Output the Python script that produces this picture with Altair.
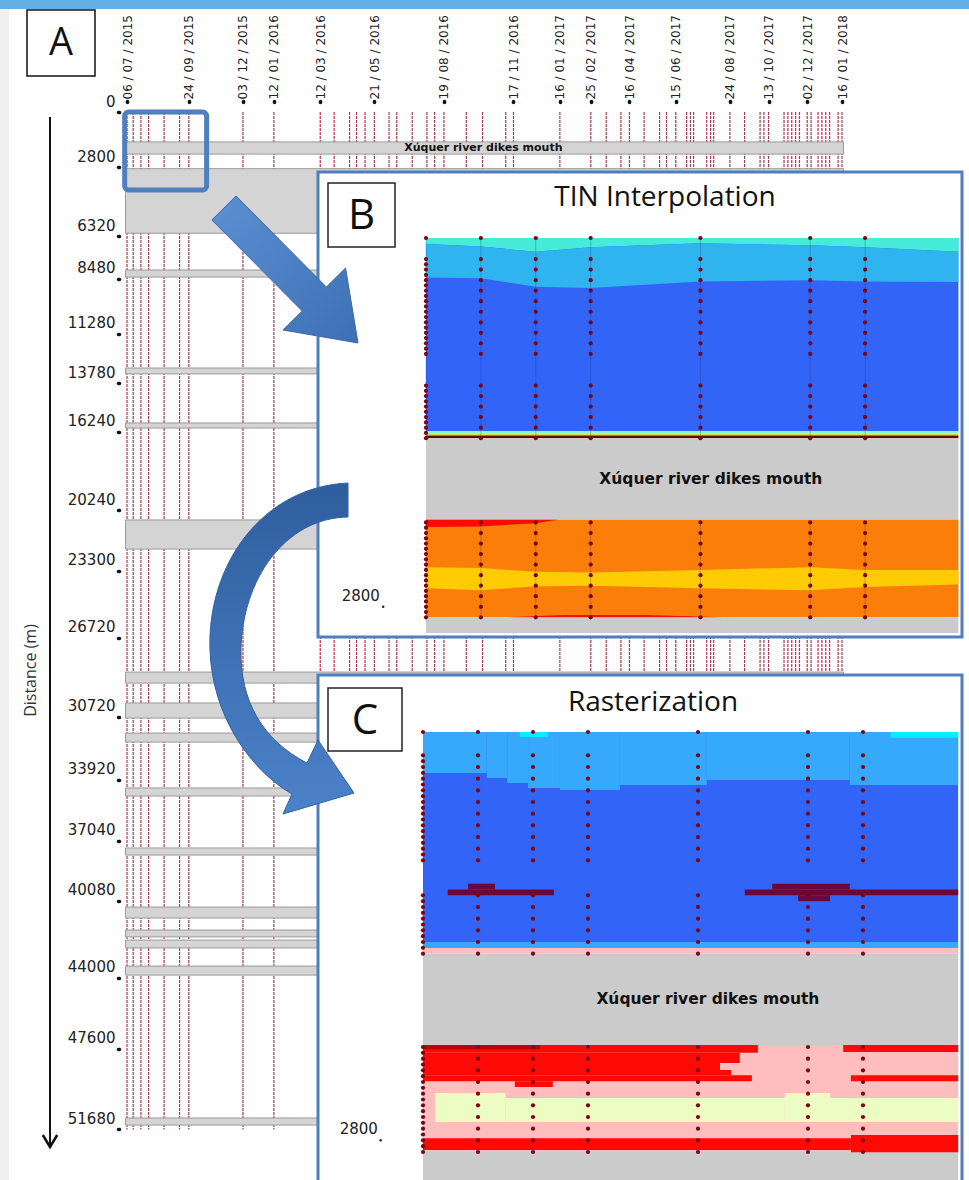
import math
import altair as alt
import pandas as pd

# ---------------- values ----------------
# Panel A : survey dates (top axis) and distances (left axis)
DATE_TICKS = ["2015-07-06", "2015-09-24", "2015-12-03", "2016-01-12", "2016-03-12",
              "2016-05-21", "2016-08-19", "2016-11-17", "2017-01-16", "2017-02-25",
              "2017-04-16", "2017-06-15", "2017-08-24", "2017-10-13", "2017-12-02",
              "2018-01-16"]
SURVEY_DATES = [
    "2015-07-06", "2015-07-14", "2015-07-24", "2015-08-03", "2015-08-23", "2015-09-12",
    "2015-09-24", "2015-12-03", "2016-01-12", "2016-03-12", "2016-03-30", "2016-04-19",
    "2016-04-28", "2016-05-09", "2016-05-21", "2016-06-09", "2016-06-19", "2016-07-09",
    "2016-07-28", "2016-08-07", "2016-08-19", "2016-09-17", "2016-10-08", "2016-11-07",
    "2016-11-17", "2017-01-16", "2017-02-25", "2017-03-17", "2017-04-05", "2017-04-16",
    "2017-05-05", "2017-05-25", "2017-06-03", "2017-06-15", "2017-06-29", "2017-07-04",
    "2017-07-08", "2017-07-25", "2017-07-30", "2017-08-03", "2017-08-24", "2017-09-12",
    "2017-10-02", "2017-10-07", "2017-10-13", "2017-11-02", "2017-11-07", "2017-11-12",
    "2017-11-17", "2017-11-22", "2017-12-02", "2017-12-07", "2017-12-16", "2017-12-21",
    "2017-12-26", "2017-12-31", "2018-01-11", "2018-01-16"]
DIST_TICKS = [0, 2800, 6320, 8480, 11280, 13780, 16240, 20240, 23300, 26720, 30720,
              33920, 37040, 40080, 44000, 47600, 51680]
GAP_START = [1520, 2880, 8030, 13010, 15800, 20730, 28460, 30030, 31560, 34350, 37400,
             40400, 41570, 42080, 43400, 51120]
GAP_END = [2140, 6160, 8390, 13310, 16060, 22210, 29020, 30800, 32020, 34760, 37760,
           40960, 41920, 42480, 43860, 51480]
A_DATE_START, A_DATE_END = "2015-07-04", "2018-01-18"
A_LINE_TOP, A_LINE_BOTTOM = 0, 51700
ZOOM_DATES = ["2015-07-03", "2015-10-17"]
ZOOM_DIST = [0, 3960]
MOUTH_DIST = 1830
A_MOUTH_DATE = "2016-10-09"
MOUTH_TEXT = "Xúquer river dikes mouth"

# Panels B and C : survey columns (10-day steps) and profile rows (m)
COLS = [0, 1, 2, 3, 5, 7, 8]
ROWS = [0, 160, 240, 320, 400, 480, 560, 640, 720, 800, 880, 1120, 1200, 1280, 1360,
        1440, 1520, 2160, 2240, 2320, 2400, 2480, 2560, 2640, 2720, 2800, 2880]
COL0_ROWS = [0, 160, 200, 240, 280, 320, 360, 400, 440, 480, 520, 560, 600, 640, 680,
             720, 760, 800, 840, 880, 1120, 1160, 1200, 1240, 1280, 1320, 1360, 1400,
             1440, 1480, 1520, 2160, 2200, 2240, 2280, 2320, 2360, 2400, 2440, 2480,
             2520, 2560, 2600, 2640, 2680, 2720, 2760, 2800, 2840, 2880]
SEG_TOP = [0, 2160]
SEG_BOT = [1520, 2880]

# Panel B (TIN interpolation)
B_RIGHT = 9.7
B_FLAT_CLASS = ["deep", "lineCyan", "lineYel", "lineDark", "gray", "orange", "gray"]
B_FLAT_TOP = [0, 1465, 1485, 1500, 1520, 2140, 2880]
B_FLAT_BOT = [1465, 1485, 1500, 1520, 2140, 2880, 3000]
B_X = [0, 1, 2, 3, 5, 7, 8, 9.7]
B_CYAN_LOW = [45, 65, 105, 70, 40, 55, 70, 105]
B_LIGHT_LOW = [300, 305, 370, 380, 330, 320, 330, 335]
B_YEL_TOP = [2500, 2505, 2535, 2540, 2520, 2500, 2520, 2520]
B_YEL_LOW = [2660, 2675, 2645, 2640, 2660, 2675, 2650, 2630]
B_REDTOP_X = [0, 1, 2, 2.4]
B_REDTOP_LOW = [2195, 2190, 2165, 2140]
B_REDBOT_X = [1.5, 2.5, 4, 5.4]
B_REDBOT_TOP = [2880, 2862, 2862, 2880]

# Panel C (rasterization) cells
C_X0 = [0, 0, 0, 0, 0, 0,
        0, 1.16, 1.53, 1.91, 2.49, 3.58, 5.16, 7.76,
        1.76, 8.5,
        0.45, 0.82, 5.85, 6.35, 6.82,
        0, 0, 0, 0, 0, 1.67, 7.64, 7.78, 0, 7.78,
        0,
        0.22, 1.5, 6.58, 7.4]
C_X1 = [9.73, 9.73, 9.73, 9.73, 9.73, 9.73,
        1.16, 1.53, 1.91, 2.49, 3.58, 5.16, 7.76, 9.73,
        2.27, 9.73,
        2.38, 1.31, 9.73, 7.76, 7.40,
        6.09, 5.76, 5.40, 5.60, 5.98, 2.36, 9.73, 9.73, 7.78, 9.73,
        2.13,
        1.5, 6.58, 7.4, 9.73]
C_Y0 = [0, 1440, 1481, 1520, 2147, 2880,
        0, 0, 0, 0, 0, 0, 0, 0,
        0, 0,
        1080, 1040, 1080, 1040, 1120,
        2147, 2200, 2270, 2318, 2353, 2394, 2147, 2353, 2785, 2764,
        2147,
        2476, 2510, 2476, 2510]
C_Y1 = [1440, 1481, 1520, 2147, 2880, 3080,
        281, 315, 350, 384, 398, 363, 329, 363,
        34, 40,
        1120, 1080, 1120, 1080, 1160,
        2200, 2270, 2318, 2353, 2394, 2435, 2195, 2394, 2867, 2881,
        2175,
        2675, 2675, 2675, 2675]
C_CLASS = ["deep", "lightC", "pink", "gray", "pink", "gray"] + ["lightC"] * 8 + \
          ["cyanC"] * 2 + ["maroon"] * 5 + ["red"] * 10 + ["darkred"] + ["pale"] * 4

# ---------------- styles ----------------
CLASS_COLORS = {
    "cyanB": "#46ecd9", "lightB": "#2fb4ef", "deep": "#3264f8", "lineCyan": "#8af5d2",
    "lineYel": "#d6e03a", "lineDark": "#5c0c05", "gray": "#cbcbcb", "orange": "#fc7e0a",
    "yellow": "#fecb05", "red": "#fe0a06", "darkred": "#c20000", "lightC": "#36a9fc",
    "cyanC": "#05f0ff", "pink": "#ffbebe", "pale": "#ecfdc4", "maroon": "#6a083c",
}
CLS = alt.Scale(domain=list(CLASS_COLORS), range=list(CLASS_COLORS.values()))
SANS = "DejaVu Sans"
TITLE_FONT = "Open Sans"
LINE_RED = "#a8384c"
DOT_RED = "#7a0614"
PANEL_BLUE = "#4f7fbd"


def ms(s):
    return int(pd.Timestamp(s, tz="UTC").value // 1_000_000)


XA = alt.Scale(type="utc", domain=[ms(DATE_TICKS[0]), ms(DATE_TICKS[-1])], range=[127, 842])
YA = alt.Scale(domain=[0, 51680], range=[112, 1129], nice=False, zero=False)
XB = alt.Scale(domain=[0, 9], range=[426, 920], nice=False, zero=False)
YB = alt.Scale(domain=[0, 2880], range=[238, 617.3], nice=False, zero=False)
XC = alt.Scale(domain=[0, 9], range=[423, 918], nice=False, zero=False)
YC = alt.Scale(domain=[0, 2880], range=[732, 1152], nice=False, zero=False)

ONE = pd.DataFrame({"k": [0]})


def deco_rect(x, x2, y, y2, **kw):
    return alt.Chart(ONE).mark_rect(**kw).encode(
        x=alt.value(x), x2=alt.value(x2), y=alt.value(y), y2=alt.value(y2))


def deco_text(x, y, text, **kw):
    return alt.Chart(ONE).mark_text(text=text, **kw).encode(x=alt.value(x), y=alt.value(y))


def symbol_path(cmds, cx, cy, half):
    out = []
    for c, pts in cmds:
        out.append(c + " ".join(f"{(px - cx) / half:.4f},{(py - cy) / half:.4f}" for px, py in pts))
    return " ".join(out) + " Z"


layers = []

# background decorations
layers.append(deco_rect(0, 969, 0, 9, fill="#62b0e6"))
layers.append(deco_rect(0, 9, 9, 1180, fill="#f0f0f0"))

# ---------------- panel A ----------------
lines_df = pd.DataFrame({"t": [ms(d) for d in SURVEY_DATES], "top": A_LINE_TOP,
                         "bot": A_LINE_BOTTOM})
layers.append(alt.Chart(lines_df).mark_rule(color=LINE_RED, strokeWidth=1.2,
                                            strokeDash=[3, 1]).encode(
    x=alt.X("t:T", scale=XA, axis=None),
    y=alt.Y("top:Q", scale=YA, axis=None), y2="bot:Q"))

top_axis = alt.Axis(orient="top", values=[ms(d) for d in DATE_TICKS],
                    labelExpr="utcFormat(datum.value, '%d / %m / %Y')",
                    labelAngle=270, labelAlign="left", labelBaseline="middle",
                    labelFont=SANS, labelFontSize=12, labelColor="#222", labelPadding=2,
                    tickSize=1, tickWidth=3.5, tickColor="#111", tickCap="round", domain=False,
                    grid=False, title=None, offset=-102, labelFlush=False, labelOverlap=False)
left_axis = alt.Axis(orient="left", values=DIST_TICKS, format="d", labelFont=SANS,
                     labelFontSize=15, labelColor="#222", labelBaseline="bottom", labelOffset=-3,
                     labelPadding=3, tickSize=1, tickWidth=3.5, tickColor="#111", tickCap="round",
                     domain=False, grid=False, offset=-119, labelFlush=False, labelOverlap=False,
                     title="Distance (m)", titleX=-89, titleY=670, titleAngle=270,
                     titleFont=TITLE_FONT, titleFontSize=16, titleFontWeight="normal",
                     titleColor="#333", titleAlign="center", titleBaseline="middle")
gaps_df = pd.DataFrame({"d0": GAP_START, "d1": GAP_END, "x0": ms(A_DATE_START),
                        "x1": ms(A_DATE_END)})
layers.append(alt.Chart(gaps_df).mark_rect(fill="#d4d4d4", stroke="#9a9a9a", strokeWidth=1).encode(
    x=alt.X("x0:T", scale=XA, axis=top_axis), x2="x1:T",
    y=alt.Y("d0:Q", scale=YA, axis=left_axis), y2="d1:Q"))

layers.append(alt.Chart(pd.DataFrame({"t": [ms(A_MOUTH_DATE)], "d": [MOUTH_DIST]})).mark_text(
    text=MOUTH_TEXT, font=SANS, fontSize=11, fontWeight="bold", color="#111").encode(
    x=alt.X("t:T", scale=XA, axis=None), y=alt.Y("d:Q", scale=YA, axis=None)))

zoom_df = pd.DataFrame({"x0": [ms(ZOOM_DATES[0])], "x1": [ms(ZOOM_DATES[1])],
                        "d0": [ZOOM_DIST[0]], "d1": [ZOOM_DIST[1]]})
layers.append(alt.Chart(zoom_df).mark_rect(fill="white", fillOpacity=0, stroke=PANEL_BLUE,
                                           strokeWidth=5, cornerRadius=4).encode(
    x=alt.X("x0:T", scale=XA, axis=None), x2="x1:T",
    y=alt.Y("d0:Q", scale=YA, axis=None), y2="d1:Q"))

layers.append(deco_rect(27, 95, 10, 76, fill="white", stroke="#111", strokeWidth=1.5))
layers.append(deco_text(61, 44, "A", font=TITLE_FONT, fontSize=38, color="#111",
                        baseline="middle", align="center"))

# vertical distance arrow
layers.append(alt.Chart(ONE).mark_rule(color="#111", strokeWidth=2).encode(
    x=alt.value(50), y=alt.value(117), y2=alt.value(1146)))
layers.append(alt.Chart(ONE).mark_point(shape="M-0.6,-1 L0,0 L0.6,-1", size=24 * 24,
                                        filled=False, stroke="#111", strokeWidth=2.5,
                                        opacity=1).encode(x=alt.value(50), y=alt.value(1147)))


# ---------------- panels B and C ----------------
def dots_df():
    rows = []
    for c in COLS:
        for r in (COL0_ROWS if c == 0 else ROWS):
            rows.append({"c": c, "r": r})
    return pd.DataFrame(rows)


def panel(y0, y1, letter, lbox, title, tpos):
    out = []
    out.append(deco_rect(318, 962, y0, y1, fill="white", stroke=PANEL_BLUE, strokeWidth=3))
    out.append(deco_rect(*lbox, fill="white", stroke="#222", strokeWidth=1.5))
    out.append(deco_text((lbox[0] + lbox[1]) / 2, (lbox[2] + lbox[3]) / 2 + 1, letter,
                         font=TITLE_FONT, fontSize=42, color="#111", baseline="middle",
                         align="center"))
    out.append(deco_text(tpos[0], tpos[1], title, font=TITLE_FONT, fontSize=28, color="#111",
                         baseline="middle", align="center"))
    return out


# Panel B
layers += panel(172, 637, "B", (328, 395, 183, 247), "TIN Interpolation", (665, 198))
bflat = pd.DataFrame({"cls": B_FLAT_CLASS, "y0": B_FLAT_TOP, "y1": B_FLAT_BOT, "x0": 0,
                      "x1": B_RIGHT})
layers.append(alt.Chart(bflat).mark_rect().encode(
    x=alt.X("x0:Q", scale=XB, axis=None), x2="x1:Q",
    y=alt.Y("y0:Q", scale=YB, axis=None), y2="y1:Q",
    color=alt.Color("cls:N", scale=CLS, legend=None)))

area_rows = []
for i, xv in enumerate(B_X):
    area_rows.append({"x": xv, "lo": 0, "hi": B_CYAN_LOW[i], "cls": "cyanB", "g": "g1"})
    area_rows.append({"x": xv, "lo": B_CYAN_LOW[i], "hi": B_LIGHT_LOW[i], "cls": "lightB",
                      "g": "g2"})
    area_rows.append({"x": xv, "lo": B_YEL_TOP[i], "hi": B_YEL_LOW[i], "cls": "yellow",
                      "g": "g3"})
for xv, lo in zip(B_REDTOP_X, B_REDTOP_LOW):
    area_rows.append({"x": xv, "lo": 2140, "hi": lo, "cls": "red", "g": "g4"})
for xv, tp in zip(B_REDBOT_X, B_REDBOT_TOP):
    area_rows.append({"x": xv, "lo": tp, "hi": 2880, "cls": "red", "g": "g5"})
layers.append(alt.Chart(pd.DataFrame(area_rows)).mark_area(orient="vertical",
                                                           interpolate="linear").encode(
    x=alt.X("x:Q", scale=XB, axis=None),
    y=alt.Y("lo:Q", scale=YB, axis=None, stack=None), y2="hi:Q",
    color=alt.Color("cls:N", scale=CLS, legend=None), detail="g:N"))

seg_df = pd.DataFrame([{"c": c, "a": a, "b": b} for c in COLS for a, b in zip(SEG_TOP, SEG_BOT)])
layers.append(alt.Chart(seg_df).mark_rule(color="#1a2f80", opacity=0.35, strokeWidth=0.8).encode(
    x=alt.X("c:Q", scale=XB, axis=None), y=alt.Y("a:Q", scale=YB, axis=None), y2="b:Q"))
layers.append(alt.Chart(dots_df()).mark_circle(size=18, color=DOT_RED, opacity=1).encode(
    x=alt.X("c:Q", scale=XB, axis=None), y=alt.Y("r:Q", scale=YB, axis=None)))
lab_df = pd.DataFrame({"x": [-0.84], "xd": [-0.78], "y": [2800], "ym": [MOUTH_DIST],
                       "xm": [5.19]})
layers.append(alt.Chart(lab_df).mark_text(text="2800", font=SANS, fontSize=15, color="#222",
                                          align="right", baseline="bottom", dy=-3).encode(
    x=alt.X("x:Q", scale=XB, axis=None), y=alt.Y("y:Q", scale=YB, axis=None)))
layers.append(alt.Chart(lab_df).mark_circle(size=6, color="#222", opacity=1).encode(
    x=alt.X("xd:Q", scale=XB, axis=None), y=alt.Y("y:Q", scale=YB, axis=None)))
layers.append(alt.Chart(lab_df).mark_text(text=MOUTH_TEXT, font=SANS, fontSize=15.5,
                                          fontWeight="bold", color="#111").encode(
    x=alt.X("xm:Q", scale=XB, axis=None), y=alt.Y("ym:Q", scale=YB, axis=None)))

# Panel C
layers += panel(675, 1192, "C", (328, 402, 688, 751), "Rasterization", (653, 703))
cdf = pd.DataFrame({"x0": C_X0, "x1": C_X1, "y0": C_Y0, "y1": C_Y1, "cls": C_CLASS})
layers.append(alt.Chart(cdf).mark_rect().encode(
    x=alt.X("x0:Q", scale=XC, axis=None), x2="x1:Q",
    y=alt.Y("y0:Q", scale=YC, axis=None), y2="y1:Q",
    color=alt.Color("cls:N", scale=CLS, legend=None)))
layers.append(alt.Chart(dots_df()).mark_circle(size=18, color=DOT_RED, opacity=1).encode(
    x=alt.X("c:Q", scale=XC, axis=None), y=alt.Y("r:Q", scale=YC, axis=None)))
lab_c = pd.DataFrame({"x": [-0.82], "xd": [-0.77], "y": [2800], "ym": [MOUTH_DIST],
                      "xm": [5.18]})
layers.append(alt.Chart(lab_c).mark_text(text="2800", font=SANS, fontSize=15, color="#222",
                                         align="right", baseline="bottom", dy=-3).encode(
    x=alt.X("x:Q", scale=XC, axis=None), y=alt.Y("y:Q", scale=YC, axis=None)))
layers.append(alt.Chart(lab_c).mark_circle(size=6, color="#222", opacity=1).encode(
    x=alt.X("xd:Q", scale=XC, axis=None), y=alt.Y("y:Q", scale=YC, axis=None)))
layers.append(alt.Chart(lab_c).mark_text(text=MOUTH_TEXT, font=SANS, fontSize=15.5,
                                         fontWeight="bold", color="#111").encode(
    x=alt.X("xm:Q", scale=XC, axis=None), y=alt.Y("ym:Q", scale=YC, axis=None)))

# ---------------- block arrows ----------------
T, P = (224, 208), (358, 343)
L = math.hypot(P[0] - T[0], P[1] - T[1])
d = ((P[0] - T[0]) / L, (P[1] - T[1]) / L)
n = (-d[1], d[0])


def apt(a, b):
    return (T[0] + d[0] * a + n[0] * b, T[1] + d[1] * a + n[1] * b)


hl, sw, hw = 62, 17, 44
spts = [apt(0, -sw), apt(L - hl, -sw), apt(L - hl, -hw), apt(L, 0), apt(L - hl, hw),
        apt(L - hl, sw), apt(0, sw)]
scx, scy, shalf = (T[0] + P[0]) / 2, (T[1] + P[1]) / 2, 100
straight = symbol_path([("M", [spts[0]])] + [("L", [p]) for p in spts[1:]], scx, scy, shalf)
grad1 = alt.Gradient(gradient="linear", x1=0, y1=0, x2=1, y2=1,
                     stops=[alt.GradientStop(color="#5b90d3", offset=0),
                            alt.GradientStop(color="#3e6fb4", offset=1)])
layers.append(alt.Chart(ONE).mark_point(shape=straight, size=(2 * shalf) ** 2, filled=True,
                                        fill=grad1, stroke="#3b68a6", strokeWidth=1,
                                        opacity=1).encode(x=alt.value(scx), y=alt.value(scy)))

ccx, ccy, chalf = 280, 648, 170
curved = symbol_path([
    ("M", [(348, 483)]),
    ("C", [(262, 487), (207, 565), (210, 650)]),
    ("C", [(212, 715), (250, 770), (292, 794)]),
    ("L", [(283, 814)]),
    ("L", [(354, 793)]),
    ("L", [(318, 740)]),
    ("L", [(307, 763)]),
    ("C", [(262, 740), (240, 700), (241, 650)]),
    ("C", [(242, 580), (285, 518), (348, 517)]),
], ccx, ccy, chalf)
grad2 = alt.Gradient(gradient="linear", x1=0, y1=0, x2=0, y2=1,
                     stops=[alt.GradientStop(color="#2f5e9e", offset=0),
                            alt.GradientStop(color="#4c82c9", offset=1)])
layers.append(alt.Chart(ONE).mark_point(shape=curved, size=(2 * chalf) ** 2, filled=True,
                                        fill=grad2, stroke="#34629f", strokeWidth=1,
                                        opacity=1).encode(x=alt.value(ccx), y=alt.value(ccy)))

chart = alt.layer(*layers).resolve_scale(x="independent", y="independent").properties(
    width=969, height=1180, autosize=alt.AutoSizeParams(type="none"), padding=0,
    background="white").configure_view(strokeWidth=0)

chart.save("out.html", embed_options={"renderer": "svg", "actions": False})
